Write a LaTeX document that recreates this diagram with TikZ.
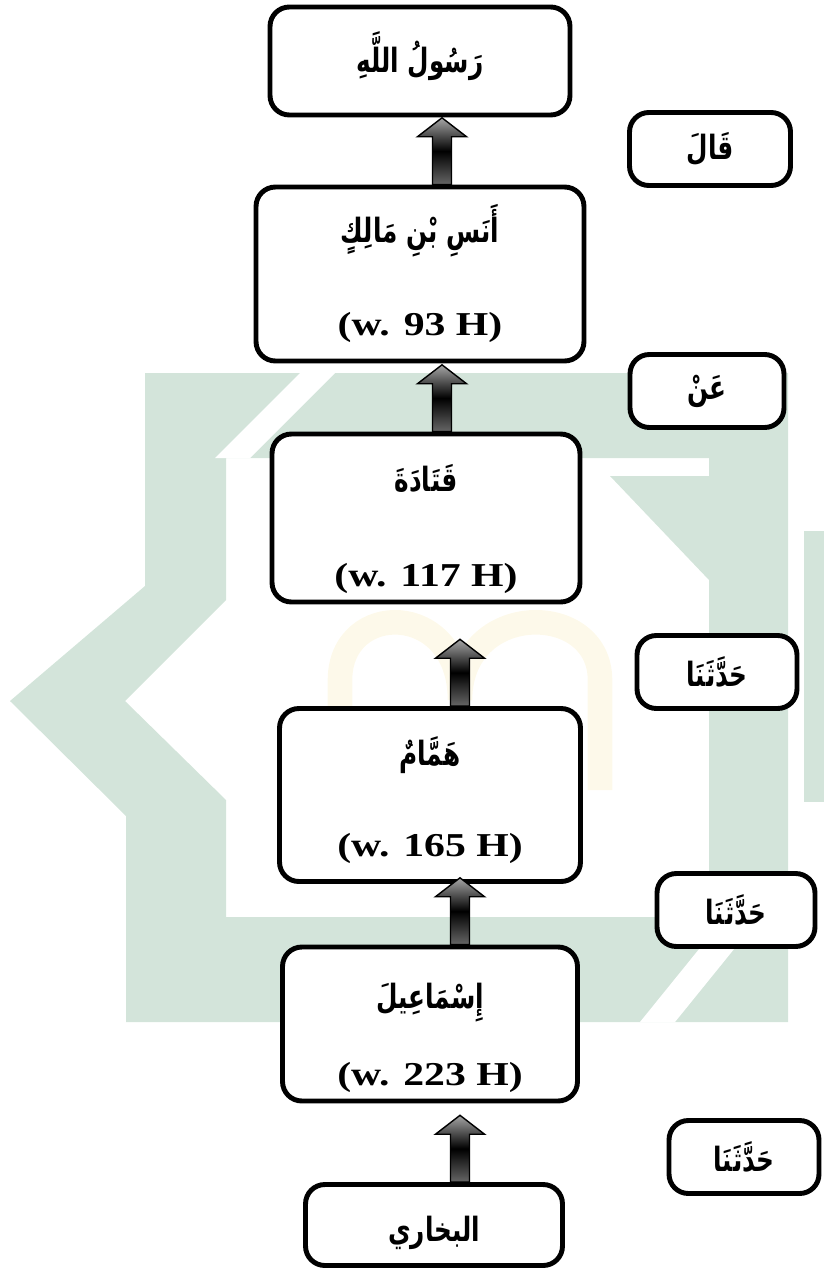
\documentclass[tikz,border=0pt]{standalone}
\usepackage{fontspec}
\setmainfont{Liberation Serif}
\newfontfamily\arabicfont[Script=Arabic,FakeStretch=0.74]{DejaVu Sans}
\newfontfamily\wafatfont[FakeStretch=1.25]{Liberation Serif}
\TeXXeTstate=1
\usetikzlibrary{calc}
\definecolor{logogreen}{HTML}{D3E4DA}
\definecolor{logoyellow}{HTML}{FDF9EA}

\newcommand\arab[1]{{\arabicfont\bfseries\fontsize{19}{23}\selectfont\beginR #1\endR}}
\newcommand\wafat[1]{{\wafatfont\bfseries\fontsize{19}{23}\selectfont (w. #1 H)}}

\newcommand\liftarrow[2]{%
  \path[liftarrow] let \p1=(#1.north -| #2) in
    (\x1-5.4pt,\y1) -- (\x1-5.4pt,\y1+27.2pt) -- (\x1-14pt,\y1+27.2pt) -- (\x1,\y1+38pt)
    -- (\x1+14pt,\y1+27.2pt) -- (\x1+5.4pt,\y1+27.2pt) -- (\x1+5.4pt,\y1) -- cycle;}

\begin{document}
\begin{tikzpicture}[x=0.02cm,y=-0.02cm,
    sanad/.style={draw,line width=2.8pt,rounded corners=11pt,fill=white,inner sep=0pt},
    lafaz/.style={sanad,minimum height=1.46cm},
    liftarrow/.style={draw=black,line width=0.8pt,top color=gray!70,bottom color=gray!80!black,middle color=black}]

        \useasboundingbox (0,0) rectangle (824,1274);

        % watermark
        \fill[logogreen,even odd rule] (145,373) -- (788,373) -- (788,1022) -- (126,1022) -- (126,816) -- (10,701) -- (145,586) -- cycle
              (226,458) -- (709,458) -- (709,917) -- (226,917) -- (226,800) -- (125,701) -- (226,600) -- cycle;
        \fill[logogreen] (804,531) rectangle (824,802);
        \fill[logogreen] (610,476) -- (709,476) -- (709,580) -- cycle;
        \fill[white] (300,373) -- (335,373) -- (250,458) -- (215,458) -- cycle;
        \fill[white] (640,1022) -- (675,1022) -- (760,917) -- (725,917) -- cycle;
        \draw[logoyellow,line width=14pt] (340,790) -- (340,680) .. controls (340,600) and (460,600) .. (460,700)
              .. controls (460,600) and (600,600) .. (600,680) -- (600,790);

        \node[sanad, minimum width=6.0cm, minimum height=2.16cm] (s_1) at (420,61) {};
        \node[sanad, minimum width=6.56cm, minimum height=3.48cm] (s_2) at (420,274) {};
        \node[sanad, minimum width=6.16cm, minimum height=3.36cm] (s_3) at (426,518) {};
        \node[sanad, minimum width=6.02cm, minimum height=3.46cm] (s_4) at (430,795) {};
        \node[sanad, minimum width=5.9cm, minimum height=3.08cm] (s_5) at (430,1024) {};
        \node[sanad, minimum width=5.14cm, minimum height=1.62cm] (s_6) at (434,1225) {};

        \node (n_1) at ($(s_1.center)+(0,-5)$) {\arab{رَسُولُ اللَّهِ}};
        \node (n_2) at ($(s_2.north)+(0,46)$) {\arab{أَنَسِ بْنِ مَالِكٍ}};
        \node (w_2) at ($(s_2.south)+(0,-36)$) {\wafat{93}};
        \node (n_3) at ($(s_3.north)+(0,47)$) {\arab{قَتَادَةَ}};
        \node (w_3) at ($(s_3.south)+(0,-26)$) {\wafat{117}};
        \node (n_4) at ($(s_4.north)+(0,49)$) {\arab{هَمَّامٌ}};
        \node (w_4) at ($(s_4.south)+(0,-35)$) {\wafat{165}};
        \node (n_5) at ($(s_5.north)+(0,58)$) {\arab{إِسْمَاعِيلَ}};
        \node (w_5) at ($(s_5.south)+(0,-26)$) {\wafat{223}};
        \node (n_6) at ($(s_6.center)+(0,8)$) {\arab{البخاري}};

        \node[lafaz, minimum width=3.22cm] (t_1) at (710,149) {\arab{قَالَ}};
        \node[lafaz, minimum width=3.08cm] (t_2) at (707,391) {\arab{عَنْ}};
        \node[lafaz, minimum width=3.2cm] (t_3) at (717,672) {\arab{حَدَّثَنَا}};
        \node[lafaz, minimum width=3.16cm] (t_4) at (736,910) {\arab{حَدَّثَنَا}};
        \node[lafaz, minimum width=3.0cm] (t_5) at (744,1157) {\arab{حَدَّثَنَا}};

        \coordinate (ax_1) at (442,0);
        \coordinate (ax_2) at (460,0);

        \foreach \low/\ax in {s_2/ax_1, s_3/ax_1, s_4/ax_2, s_5/ax_2, s_6/ax_2}
          {\liftarrow{\low}{\ax}}
\end{tikzpicture}
\end{document}
